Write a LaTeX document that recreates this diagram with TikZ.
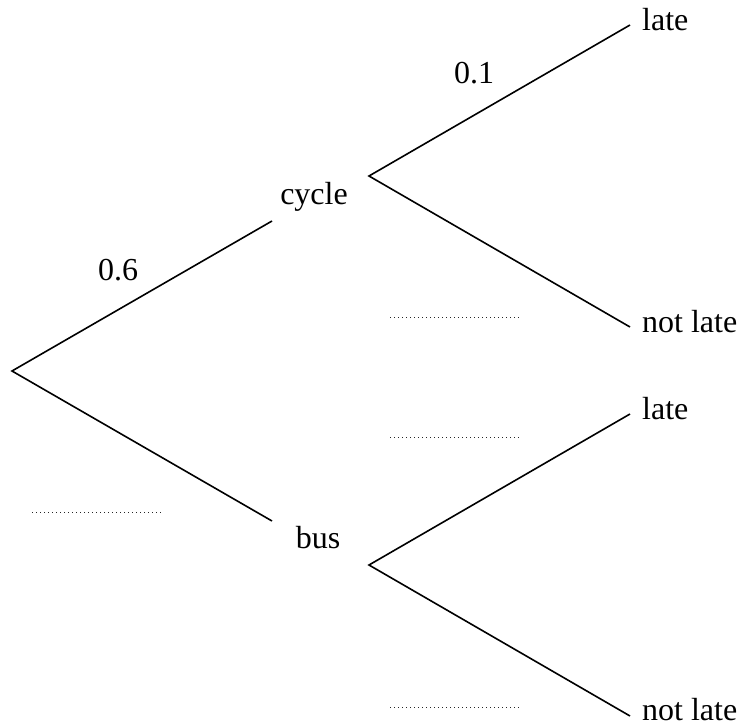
\documentclass[tikz,border=0pt]{standalone}
\usepackage{fontspec}
\setmainfont{Liberation Serif}
\begin{document}
\begin{tikzpicture}[x=1pt,y=-1pt,
  branch/.style={line width=1.6pt},
  answer/.style={line width=1pt, dash pattern=on 1pt off 3pt, black!85},
  lbl/.style={inner sep=0pt, anchor=base, font=\fontsize{32}{38}\selectfont},
  lblw/.style={lbl, anchor=base west}]
\useasboundingbox (0,0) rectangle (742,726);
% junction points
\coordinate (root) at (12,371);
\coordinate (cin) at (272,221);
\coordinate (bin) at (272,521);
\coordinate (cout) at (369,176);
\coordinate (bout) at (369,565);
\coordinate (l1) at (630,25);
\coordinate (n1) at (630,327);
\coordinate (l2) at (630,414);
\coordinate (n2) at (630,716);
% branches
\draw[branch] (cin) -- (root) -- (bin);
\draw[branch] (l1) -- (cout) -- (n1);
\draw[branch] (l2) -- (bout) -- (n2);
% labels
\node[lbl] (cycle) at (314,204) {cycle};
\node[lbl] (bus) at (318,548) {bus};
\node[lbl] (p06) at (118,280) {0.6};
\node[lbl] (p01) at (474,83) {0.1};
\node[lblw] (late1) at (642,30) {late};
\node[lblw] (notlate1) at (642,332) {not late};
\node[lblw] (late2) at (642,419) {late};
\node[lblw] (notlate2) at (642,720) {not late};
% answer lines
\coordinate (a1s) at (32,512); \coordinate (a1e) at (163,512);
\coordinate (a2s) at (390,317); \coordinate (a2e) at (522,317);
\coordinate (a3s) at (390,437); \coordinate (a3e) at (522,437);
\coordinate (a4s) at (390,707); \coordinate (a4e) at (522,707);
\draw[answer] (a1s) -- (a1e);
\draw[answer] (a2s) -- (a2e);
\draw[answer] (a3s) -- (a3e);
\draw[answer] (a4s) -- (a4e);
\end{tikzpicture}
\end{document}
